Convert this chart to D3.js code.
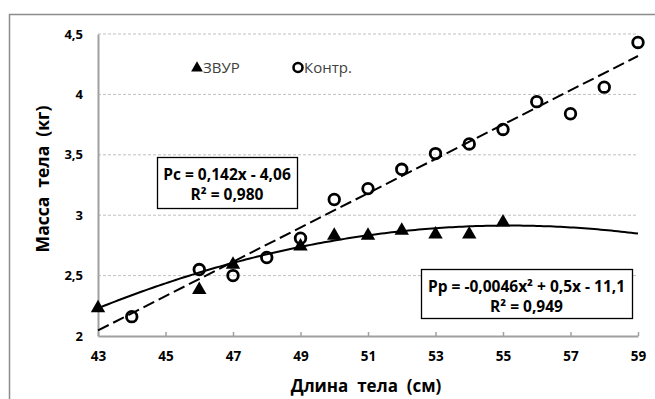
<!DOCTYPE html>
<html>
<head>
<meta charset="utf-8">
<script src="https://cdn.jsdelivr.net/npm/d3@7"></script>
<style>
  body { margin: 0; background: #fff; }
  #chart { width: 655px; height: 399px; }
  text { font-family: "Open Sans", "DejaVu Sans", sans-serif; }
</style>
</head>
<body>
<div id="chart"></div>
<script>
// Data
const controlX = [44, 46, 47, 48, 49, 50, 51, 52, 53, 54, 55, 56, 57, 58, 59];
const controlY = [2.16, 2.55, 2.50, 2.65, 2.81, 3.13, 3.22, 3.38, 3.51, 3.59, 3.71, 3.94, 3.84, 4.06, 4.43];
const zvurX = [43, 46, 47, 49, 50, 51, 52, 53, 54, 55];
const zvurY = [2.24, 2.39, 2.60, 2.75, 2.84, 2.84, 2.88, 2.85, 2.85, 2.95];
const xTicks = [43, 45, 47, 49, 51, 53, 55, 57, 59];
const yTicks = [2, 2.5, 3, 3.5, 4, 4.5];
const seriesNames = ["ЗВУР", "Контр."];
const linearFit = [0.142, -4.06];            // Рс = 0,142x - 4,06
const polyFit = [-0.0046, 0.5078, -11.1];    // Рр = -0,0046x² + 0,5x - 11,1
const eqControl = ["Рс = 0,142x - 4,06", "R² = 0,980"];
const eqZvur = ["Рр = -0,0046x² + 0,5x - 11,1", "R² = 0,949"];

function drawChart() {
    const width = 655, height = 399;
    const margin = { top: 34, right: 17, bottom: 63, left: 98 };

    const svg = d3.select("#chart")
        .append("svg")
        .attr("width", width)
        .attr("height", height);

    // outer chart frame (runs past right/bottom edge)
    svg.append("rect")
        .attr("x", 9.5).attr("y", 14.5)
        .attr("width", 660).attr("height", 400)
        .attr("fill", "none")
        .attr("stroke", "#8c8c8c")
        .attr("stroke-width", 1.5);

    const x = d3.scaleLinear()
        .domain([43, 59])
        .range([margin.left, width - margin.right]);

    const y = d3.scaleLinear()
        .domain([2, 4.5])
        .range([height - margin.bottom, margin.top]);

    // gridlines
    svg.append("g")
        .selectAll("line")
        .data(yTicks.filter(d => d > 2))
        .join("line")
        .attr("x1", x(43)).attr("x2", x(59))
        .attr("y1", d => y(d)).attr("y2", d => y(d))
        .attr("stroke", "#c0c0c0")
        .attr("stroke-width", 1)
        .attr("stroke-dasharray", "3,2");

    // Y axis
    svg.append("g")
        .attr("transform", `translate(${margin.left},0)`)
        .call(d3.axisLeft(y).tickValues(yTicks).tickSize(0).tickPadding(15)
            .tickFormat(d => d3.format("")(d).replace(".", ",")))
        .call(g => g.select(".domain").attr("stroke", "#a0a0a0").attr("stroke-width", 2))
        .call(g => g.selectAll("text")
            .attr("font-size", "13px").attr("font-weight", "bold").attr("fill", "#000")
            .attr("font-family", "Open Sans"));

    // X axis
    svg.append("g")
        .attr("transform", `translate(0,${height - margin.bottom})`)
        .call(d3.axisBottom(x).tickValues(xTicks).tickSizeInner(-4).tickSizeOuter(0).tickPadding(15))
        .call(g => g.select(".domain").attr("stroke", "#a0a0a0").attr("stroke-width", 2))
        .call(g => g.selectAll(".tick line").attr("stroke", "#a0a0a0").attr("stroke-width", 1.5))
        .call(g => g.selectAll("text")
            .attr("font-size", "13.5px").attr("font-weight", "bold").attr("fill", "#000")
            .attr("font-family", "Open Sans"));

    // Axis titles
    svg.append("text")
        .attr("x", 366).attr("y", 392)
        .attr("text-anchor", "middle")
        .attr("xml:space", "preserve")
        .attr("font-size", "17px").attr("font-weight", "bold")
        .text("Длина  тела  (см)");

    svg.append("text")
        .attr("transform", "translate(49,179) rotate(-90)")
        .attr("text-anchor", "middle")
        .attr("xml:space", "preserve")
        .attr("font-size", "17.5px").attr("font-weight", "bold")
        .text("Масса  тела  (кг)");

    // Trend lines
    const xs = d3.range(43, 59.01, 0.1);
    svg.append("path")
        .datum([43, 59])
        .attr("d", d3.line().x(d => x(d)).y(d => y(linearFit[0] * d + linearFit[1])))
        .attr("fill", "none")
        .attr("stroke", "#000")
        .attr("stroke-width", 2)
        .attr("stroke-dasharray", "12,5");

    svg.append("path")
        .datum(xs)
        .attr("d", d3.line().x(d => x(d)).y(d => y(polyFit[0] * d * d + polyFit[1] * d + polyFit[2])))
        .attr("fill", "none")
        .attr("stroke", "#000")
        .attr("stroke-width", 2);

    // Markers
    const tri = d3.symbol().type(d3.symbolTriangle).size(90);
    svg.append("g")
        .selectAll("path")
        .data(zvurX.map((d, i) => [d, zvurY[i]]))
        .join("path")
        .attr("transform", d => `translate(${x(d[0])},${y(d[1]) + 1})`)
        .attr("d", tri)
        .attr("fill", "#000");

    svg.append("g")
        .selectAll("circle")
        .data(controlX.map((d, i) => [d, controlY[i]]))
        .join("circle")
        .attr("cx", d => x(d[0]))
        .attr("cy", d => y(d[1]))
        .attr("r", 5.3)
        .attr("fill", "none")
        .attr("stroke", "#000")
        .attr("stroke-width", 2.8);

    // Legend
    const legend = svg.append("g");
    legend.append("path")
        .attr("transform", "translate(197,68)")
        .attr("d", d3.symbol().type(d3.symbolTriangle).size(60))
        .attr("fill", "#000");
    legend.append("text")
        .attr("x", 203).attr("y", 73)
        .attr("font-size", "15px").attr("fill", "#404040")
        .text(seriesNames[0]);
    legend.append("circle")
        .attr("cx", 298).attr("cy", 67.5).attr("r", 4.5)
        .attr("fill", "none").attr("stroke", "#000").attr("stroke-width", 2.6);
    legend.append("text")
        .attr("x", 304).attr("y", 73)
        .attr("font-size", "15px").attr("fill", "#404040")
        .text(seriesNames[1]);

    // Equation boxes
    function eqBox(x0, y0, w, h, lines) {
        const g = svg.append("g");
        g.append("rect")
            .attr("x", x0 + 0.5).attr("y", y0 + 0.5)
            .attr("width", w).attr("height", h)
            .attr("fill", "#fff").attr("stroke", "#000").attr("stroke-width", 1.3);
        lines.forEach((t, i) => {
            g.append("text")
                .attr("x", x0 + w / 2).attr("y", y0 + 22.5 + i * 20.5)
                .attr("text-anchor", "middle")
                .attr("font-size", "15.5px").attr("font-weight", "bold")
                .text(t);
        });
    }
    eqBox(157, 157, 140, 51, eqControl);
    eqBox(421, 269, 211, 49, eqZvur);
}

drawChart();
</script>
</body>
</html>
